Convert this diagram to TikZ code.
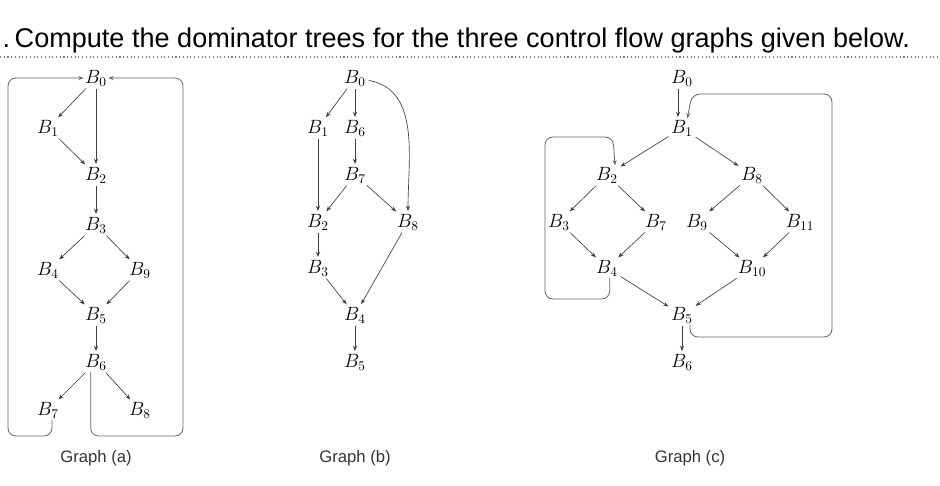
\documentclass[tikz,border=0pt]{standalone}
\usepackage{fontspec}
\newfontfamily\sans{Liberation Sans}
\usetikzlibrary{arrows.meta}
\begin{document}
\begin{tikzpicture}[x=0.75pt,y=-0.75pt,
  bb/.style={inner sep=1pt,font=\fontsize{14}{14}\selectfont},
  e/.style={-{Stealth[length=4pt,width=3pt]},draw=black!75,line width=0.5pt,shorten >=1pt,shorten <=1pt},
  lp/.style={draw=black!60,line width=0.6pt,rounded corners=6pt},
  captxt/.style={font=\sans\fontsize{12.5}{12.5}\selectfont,text=black!80}]
\useasboundingbox (0,0) rectangle (940,486);
\node[anchor=west,font=\sans\fontsize{20.3}{20.3}\selectfont] (title) at (-2,40) {.\,Compute the dominator trees for the three control flow graphs given below.};
\draw[black!50,dotted,line width=0.8pt] (0,57) -- (940,57);
% graph a
\foreach \n/\x/\y in {0/96/78,1/48/128,2/96/175,3/96/225,4/48/270,9/140/270,5/96/315,6/96/362,7/48/410,8/140/410}
  \node[bb] (a\n) at (\x,\y) {$B_{\n}$};
\foreach \s/\t in {0/1,0/2,1/2,2/3,3/4,3/9,4/5,9/5,5/6,6/7,6/8} \draw[e] (a\s) -- (a\t);
\draw[lp,-{Stealth[length=4pt,width=3pt]}] ([xshift=3pt]a7.south) |- (8,436) |- (a0.west);
\draw[lp,-{Stealth[length=4pt,width=3pt]}] ([xshift=-4pt]a6.south) |- (183,436) |- (a0.east);
\node[captxt] (ca) at (96,458) {Graph (a)};
% graph b
\foreach \n/\x/\y in {0/355/78,1/318/128,6/355/128,7/355/175,2/318/222,8/408/222,3/318/268,4/355/315,5/355/362}
  \node[bb] (b\n) at (\x,\y) {$B_{\n}$};
\foreach \s/\t in {0/1,0/6,6/7,7/2,7/8,1/2,2/3,3/4,8/4,4/5} \draw[e] (b\s) -- (b\t);
\draw[e] (b0) to[out=-10,in=90] (b8);
\node[captxt] (cb) at (355,458) {Graph (b)};
% graph c
\foreach \n/\x/\y in {0/682/78,1/682/128,2/607/175,8/752/175,3/559/222,7/656/222,9/697/222,11/800/222,4/607/268,10/752/268,5/682/315,6/682/362}
  \node[bb] (c\n) at (\x,\y) {$B_{\n}$};
\foreach \s/\t in {1/2,1/8,2/3,2/7,8/9,8/11,3/4,7/4,9/10,11/10,4/5,10/5,5/6} \draw[e] (c\s) -- (c\t);
\draw[e] ([xshift=-3pt]c0.south) -- ([xshift=-3pt]c1.north);
\draw[lp,-{Stealth[length=4pt,width=3pt]}] ([xshift=2pt]c4.south) |- (545,299) |- (613,137) -- ([xshift=6pt]c2.north);
\draw[lp,-{Stealth[length=4pt,width=3pt]}] ([xshift=6pt]c5.south) |- (832,337) |- (692,94) -- ([xshift=4pt]c1.north);
\node[captxt] (cc) at (690,458) {Graph (c)};
\end{tikzpicture}
\end{document}
